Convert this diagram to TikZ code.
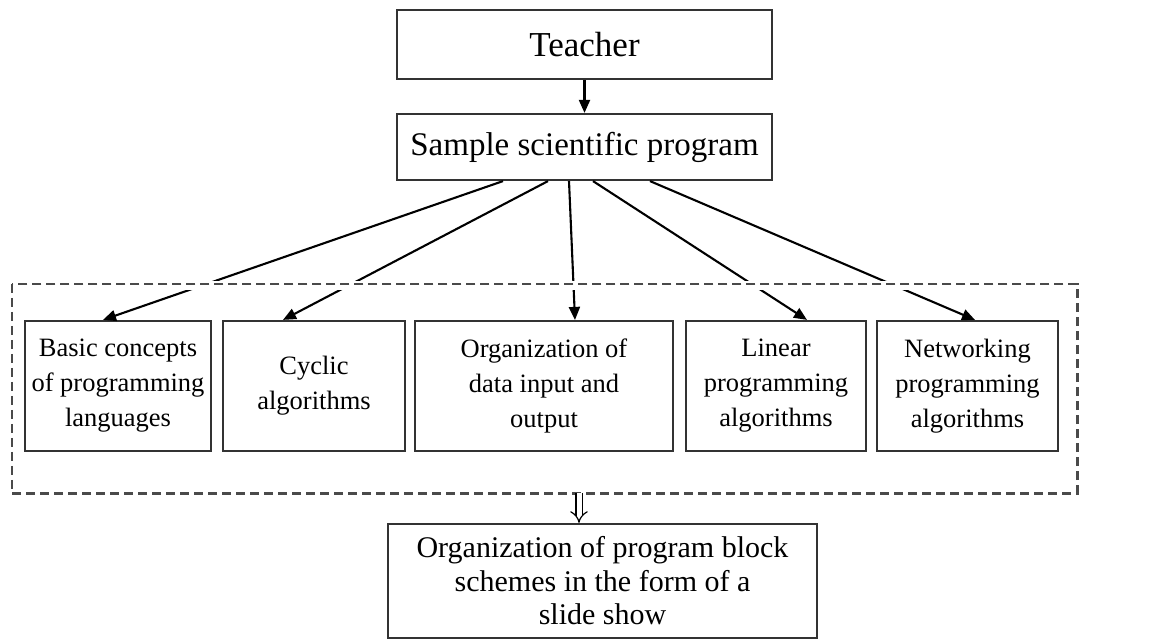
\documentclass[tikz,border=0pt]{standalone}
\usepackage{fontspec}
\setmainfont{Liberation Serif}
\usetikzlibrary{arrows.meta}
\definecolor{edge}{HTML}{333333}
\definecolor{dashgray}{HTML}{4A4A4A}
\tikzset{
  box/.style={draw=edge, line width=2.2pt, fill=white, inner sep=0pt, align=center},
  rowbox/.style={box, minimum height=130pt, font=\fontsize{26.5}{35}\selectfont},
  link/.style={line width=2.1pt, -{Triangle[length=13pt,width=11pt]}},
  groupframe/.style={dashgray, line width=2.6pt, dash pattern=on 9pt off 5pt},
  hollow/.style={double, double distance=5pt, line width=1.2pt, -{Implies}},
}
\begin{document}
\begin{tikzpicture}[x=1pt, y=-1pt]
  \useasboundingbox (0,0) rectangle (1155,639);

  % top of the chain
  \node[box, minimum width=375pt, minimum height=69pt,
        font=\fontsize{35}{42}\selectfont] (teacher) at (584.5,44.5) {Teacher};
  \node[box, minimum width=375pt, minimum height=66pt,
        font=\fontsize{33}{40}\selectfont] (sample) at (584.5,147) {Sample scientific program};

  % the five topic blocks
  \node[rowbox, minimum width=186pt] (b1) at (118,386)
       {Basic concepts\\of programming\\languages};
  \node[rowbox, minimum width=182pt] (b2) at (314,386)
       {Cyclic\\algorithms};
  \node[rowbox, minimum width=258pt] (b3) at (544,386)
       {Organization of\\data input and\\output};
  \node[rowbox, minimum width=180pt] (b4) at (776,386)
       {Linear\\programming\\algorithms};
  \node[rowbox, minimum width=181pt] (b5) at (967.5,386)
       {Networking\\programming\\algorithms};

  % result block
  \node[box, minimum width=429pt, minimum height=114pt,
        font=\fontsize{30}{33.5}\selectfont] (result) at (602.5,581)
       {Organization of program block\\schemes in the form of a\\slide show};

  % frame around the topic blocks
  \node[minimum width=1065pt, minimum height=209pt, inner sep=0pt] (group) at (544.5,388.5) {};

  % connectors
  \draw[link] (teacher) -- (sample);
  \draw[link] ([xshift=-81.5pt]sample.south) -- ([xshift=-15pt]b1.north);
  \draw[link] ([xshift=-36.5pt]sample.south) -- ([xshift=-31pt]b2.north);
  \draw[link] ([xshift=-15.5pt]sample.south) -- ([xshift=31pt]b3.north);
  \draw[link] ([xshift=8.5pt]sample.south) -- ([xshift=31pt]b4.north);
  \draw[link] ([xshift=65.5pt]sample.south) -- ([xshift=7.5pt]b5.north);

  % the frame line breaks the connectors where they cross it
  \draw[white, line width=9pt] ([yshift=-1.5pt]group.north west) -- ([yshift=-1.5pt]group.north east);
  \draw[groupframe] (group.north west) rectangle (group.south east);

  \draw[hollow] ([xshift=34.5pt]group.south) -- ([xshift=-23.5pt]result.north);
\end{tikzpicture}
\end{document}
